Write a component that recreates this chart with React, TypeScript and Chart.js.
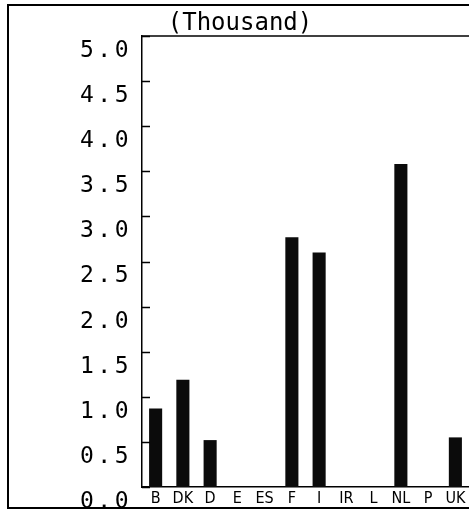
import React, { useEffect, useRef } from "react";
import { Chart, registerables } from "chart.js";

Chart.register(...registerables);

const categories = ["B", "DK", "D", "E", "ES", "F", "I", "IR", "L", "NL", "P", "UK"];
const values = [0.87, 1.19, 0.52, 0, 0, 2.77, 2.6, 0, 0, 3.58, 0, 0.55];
const yMin = 0;
const yMax = 5;
const yStep = 0.5;
const titleText = "(Thousand)";

const frameAndTicks = {
  id: "frameAndTicks",
  afterDatasetsDraw(chart: any) {
    const ctx = chart.ctx as any;
    ctx.letterSpacing = "3.5px";
  },
  afterDraw(chart: any) {
    const { ctx, chartArea } = chart;
    (ctx as any).letterSpacing = "0px";
    const y = chart.scales.y;
    ctx.save();
    ctx.strokeStyle = "#000";
    ctx.lineWidth = 1.5;
    ctx.beginPath();
    ctx.moveTo(chartArea.left, chartArea.top);
    ctx.lineTo(chartArea.right + 2, chartArea.top);
    ctx.stroke();
    ctx.beginPath();
    for (const t of y.ticks) {
      const py = Math.round(y.getPixelForValue(t.value)) + 0.5;
      ctx.moveTo(chartArea.left, py);
      ctx.lineTo(chartArea.left + 8, py);
    }
    ctx.stroke();
    ctx.restore();
  },
};

export default function App() {
  const ref = useRef<HTMLCanvasElement | null>(null);
  useEffect(() => {
    if (!ref.current) return;
    const chart = new Chart(ref.current, {
      type: "bar",
      data: {
        labels: categories,
        datasets: [
          {
            data: values,
            backgroundColor: "#0b0b0b",
            borderWidth: 0,
            barPercentage: 0.48,
            categoryPercentage: 1,
          },
        ],
      },
      options: {
        animation: false,
        responsive: false,
        devicePixelRatio: 1,
        layout: { padding: { left: 11, right: 0, top: 0, bottom: 0 } },
        plugins: {
          legend: { display: false },
          tooltip: { enabled: false },
          title: {
            display: true,
            text: titleText,
            color: "#000",
            font: { family: "'DejaVu Sans Mono', monospace", size: 24, weight: "normal", lineHeight: 1 },
            padding: { top: 12, bottom: 0 },
          },
        },
        scales: {
          x: {
            grid: { display: false, drawTicks: false },
            border: { display: true, color: "#000", width: 1.5 },
            ticks: {
              color: "#000",
              padding: 2,
              autoSkip: false,
              maxRotation: 0,
              font: { family: "'Liberation Sans Narrow', 'DejaVu Sans Condensed', sans-serif", size: 16 },
            },
            afterFit: (s: any) => {
              s.height = 30;
            },
          },
          y: {
            min: yMin,
            max: yMax,
            grid: { display: false, drawTicks: false },
            border: { display: true, color: "#000", width: 1.5 },
            ticks: {
              z: 1,
              stepSize: yStep,
              color: "#000",
              padding: 10,
              labelOffset: (c: any) => (c.index === 0 ? 10 : 15),
              font: { family: "'DejaVu Sans Mono', monospace", size: 23 },
              callback: (v: any) => Number(v).toFixed(1),
            },
            afterFit: (s: any) => {
              s.width = 131;
            },
          },
        },
      },
      plugins: [frameAndTicks],
    });
    return () => chart.destroy();
  }, []);

  return (
    <div style={{ position: "fixed", left: 0, top: 0, width: 469, height: 517, background: "#fff", overflow: "hidden" }}>
      <div
        style={{
          position: "absolute",
          left: 7,
          top: 4,
          width: 480,
          height: 501,
          borderLeft: "2px solid #000",
          borderTop: "2px solid #000",
          borderBottom: "2px solid #000",
        }}
      />
      <canvas ref={ref} width={469} height={517} style={{ position: "absolute", left: 0, top: 0 }} />
    </div>
  );
}
